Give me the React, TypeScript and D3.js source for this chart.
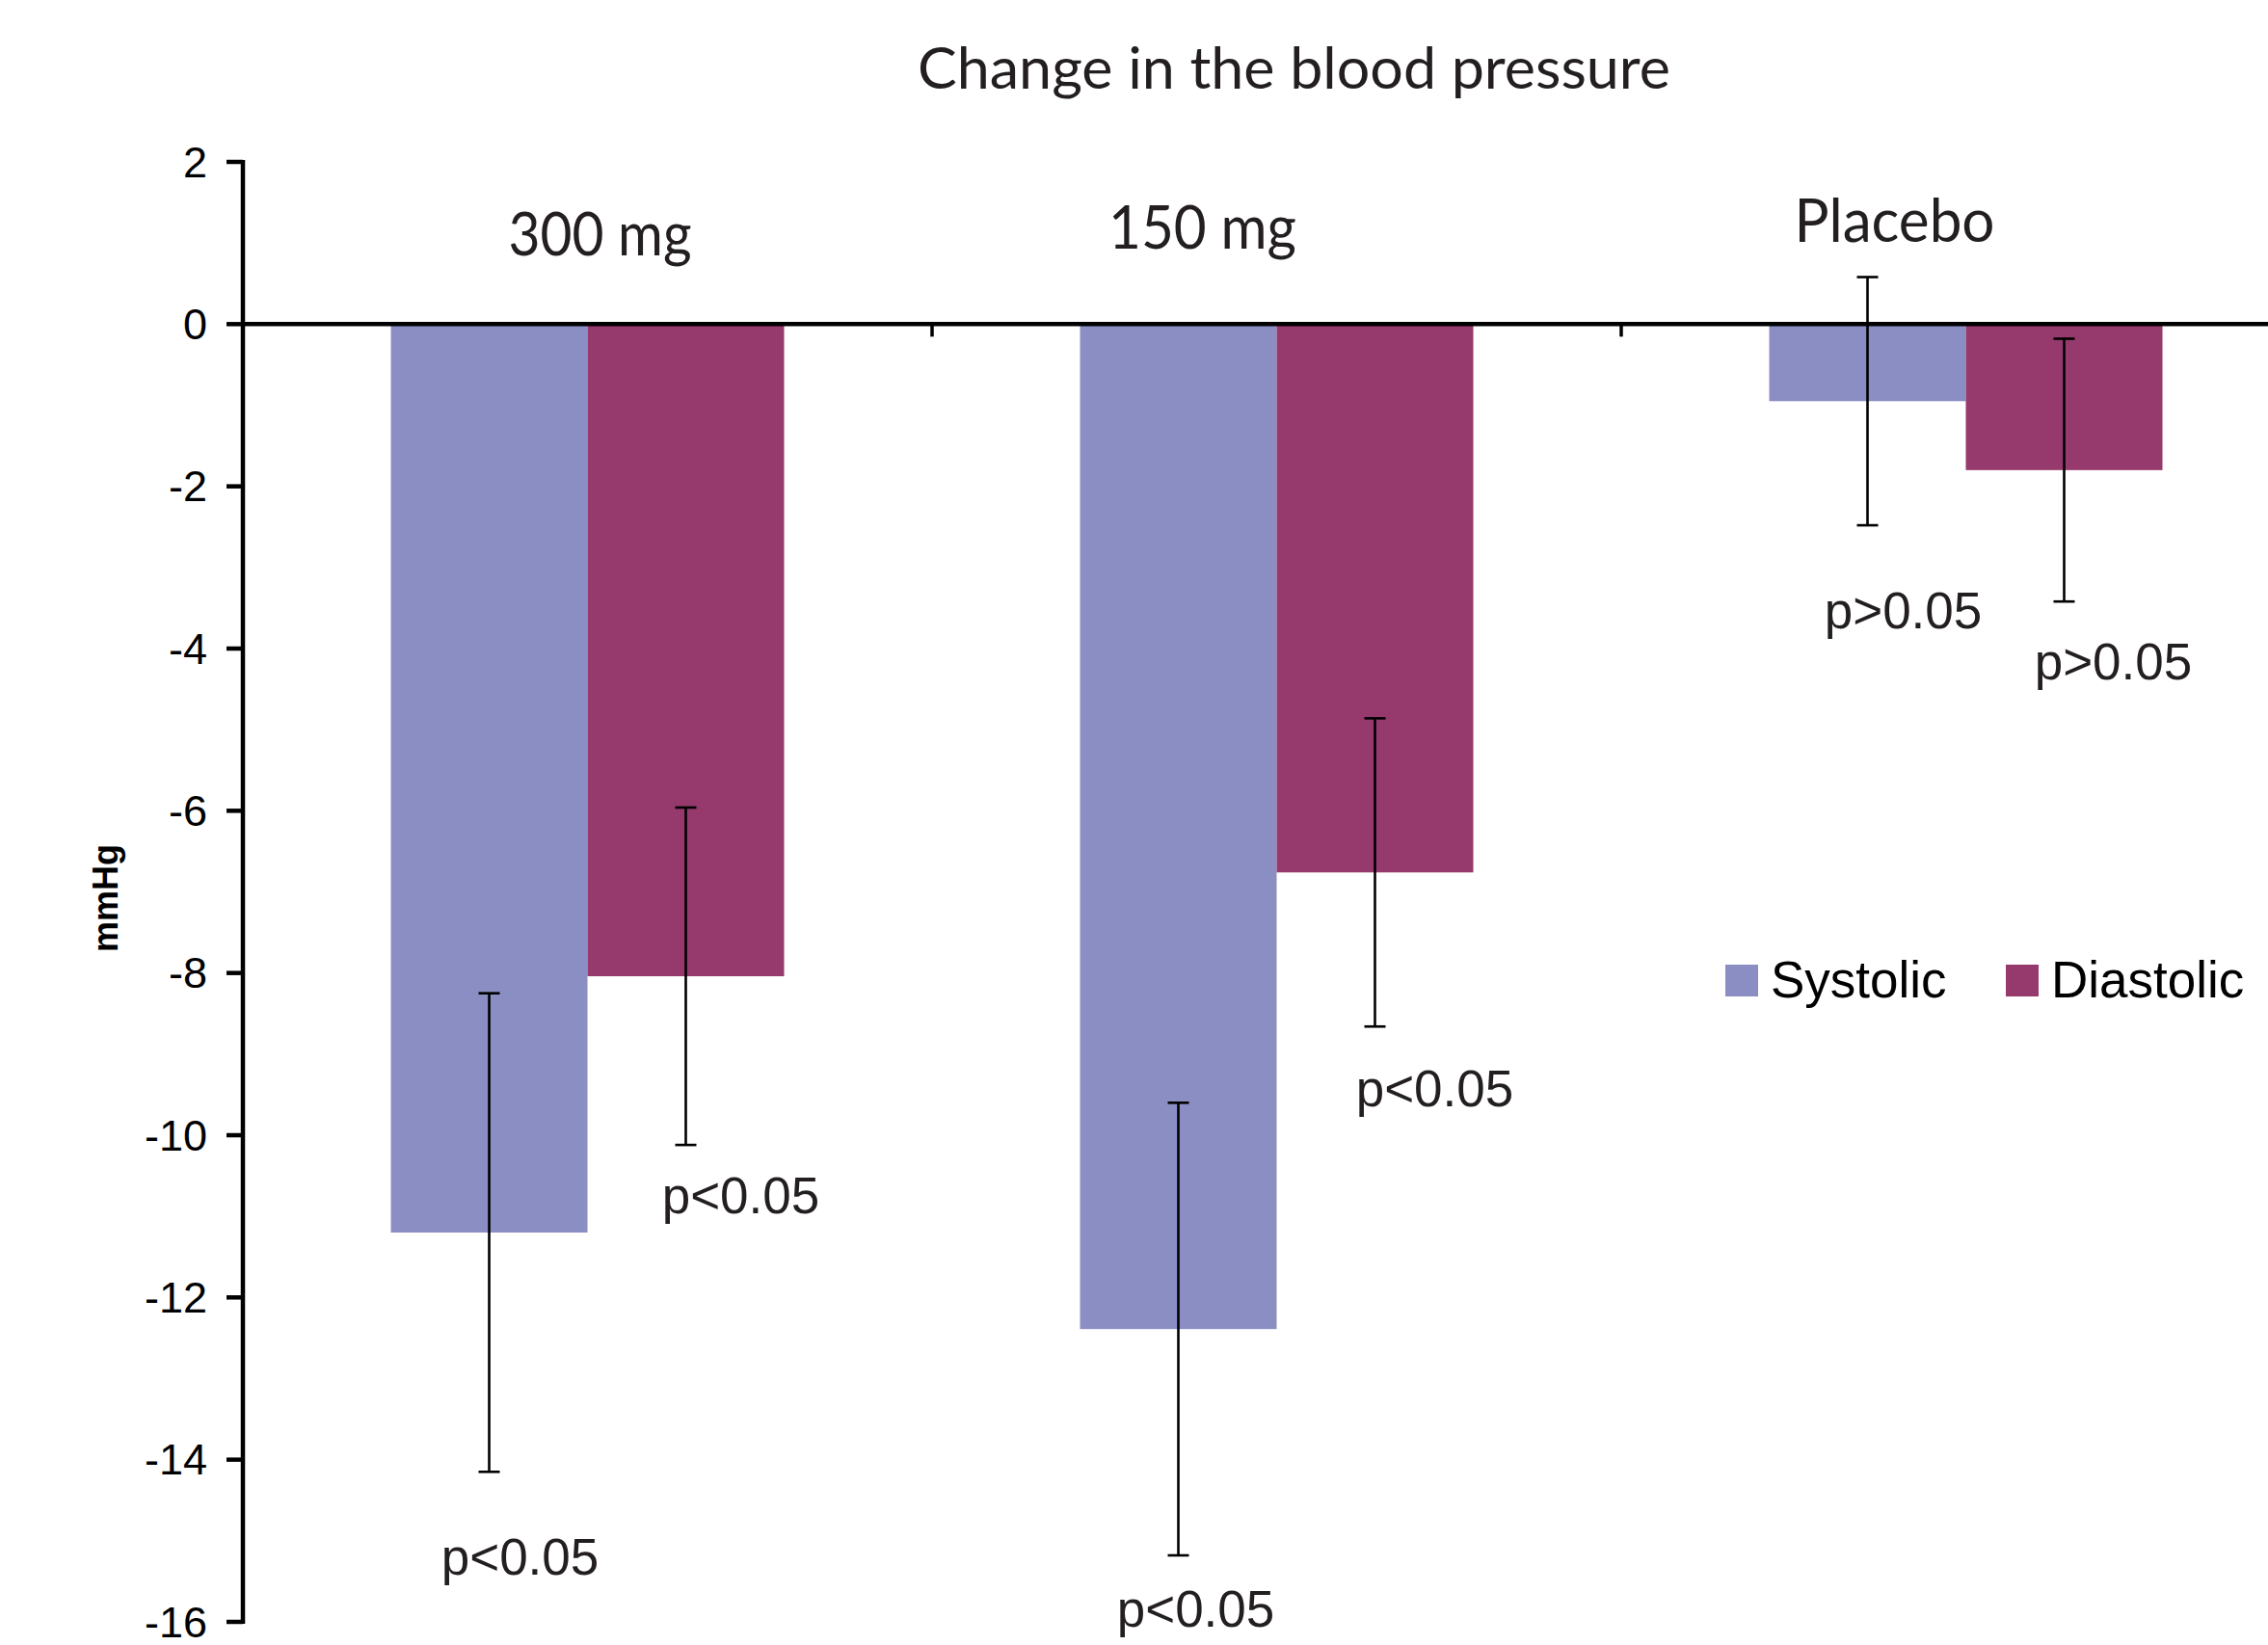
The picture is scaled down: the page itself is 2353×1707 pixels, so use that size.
import React from "react";
import * as d3 from "d3";

// ---------- data ----------
const categories = ["300 mg", "150 mg", "Placebo"];
const seriesNames = ["Systolic", "Diastolic"];
const systolic = [-11.2, -12.39, -0.95];
const diastolic = [-8.04, -6.76, -1.8];
const systolicErr = [2.95, 2.79, 1.53];
const diastolicErr = [2.08, 1.9, 1.62];
const systolicP = ["p<0.05", "p<0.05", "p>0.05"];
const diastolicP = ["p<0.05", "p<0.05", "p>0.05"];
const yTicks = [2, 0, -2, -4, -6, -8, -10, -12, -14, -16];
const titleText = "Change in the blood pressure";
const yLabel = "mmHg";

// ---------- layout ----------
const W = 2353;
const H = 1707;
const axisX = 252;
const plotRight = 2397;
const colors = ["#8A8EC3", "#96396C"];
const catLabelDx = [13, -77, -74];
const catLabelY = [265, 258, 251];
const pDx = [
  [32, 18, 37],
  [57, 62, 51],
];
const pDy = [
  [107, 74, 107],
  [71, 83, 81],
];
const catLabelLen = [190, 195, 208];
const arial = "'Liberation Sans', Arial, sans-serif";
const myriad = "Lato, 'Open Sans', sans-serif";

export default function App() {
  const y = d3.scaleLinear().domain([-16, 2]).range([1683, 168]);
  const x0 = d3.scaleBand<string>().domain(categories).range([axisX, plotRight]).paddingInner(0).paddingOuter(0);
  const x1 = d3
    .scaleBand<string>()
    .domain(seriesNames)
    .range([0, x0.bandwidth()])
    .paddingInner(0)
    .paddingOuter(0.7525);

  const series = [
    { name: seriesNames[0], values: systolic, errs: systolicErr, ps: systolicP, color: colors[0] },
    { name: seriesNames[1], values: diastolic, errs: diastolicErr, ps: diastolicP, color: colors[1] },
  ];

  const y0 = y(0);
  const capHalf = 11;

  return (
    <svg
      width={W}
      height={H}
      viewBox={`0 0 ${W} ${H}`}
      style={{ position: "absolute", left: 0, top: 0, background: "#fff" }}
    >
      <rect x={0} y={0} width={W} height={H} fill="#fff" />
      {/* title */}
      <text x={952} y={92} fontFamily={myriad} fontSize={60} fill="#231f20" textLength={781} lengthAdjust="spacingAndGlyphs">
        {titleText}
      </text>

      {/* bars */}
      {series.map((s, si) =>
        categories.map((c, ci) => {
          const bx = (x0(c) as number) + (x1(s.name) as number);
          const v = s.values[ci];
          return (
            <rect
              key={`b-${si}-${ci}`}
              x={bx}
              y={Math.min(y(v), y0)}
              width={x1.bandwidth()}
              height={Math.abs(y(v) - y0)}
              fill={s.color}
            />
          );
        })
      )}

      {/* zero line */}
      <line x1={axisX} x2={W} y1={y0} y2={y0} stroke="#000" strokeWidth={4.5} />
      {categories.slice(1).map((c) => (
        <line key={`xt-${c}`} x1={x0(c) as number} x2={x0(c) as number} y1={y0} y2={y0 + 13} stroke="#000" strokeWidth={3.5} />
      ))}

      {/* error bars */}
      {series.map((s, si) =>
        categories.map((c, ci) => {
          const cx = (x0(c) as number) + (x1(s.name) as number) + x1.bandwidth() / 2;
          const hi = y(s.values[ci] + s.errs[ci]);
          const lo = y(s.values[ci] - s.errs[ci]);
          return (
            <g key={`e-${si}-${ci}`} stroke="#000" strokeWidth={2.6}>
              <line x1={cx} x2={cx} y1={hi} y2={lo} />
              <line x1={cx - capHalf} x2={cx + capHalf} y1={hi} y2={hi} />
              <line x1={cx - capHalf} x2={cx + capHalf} y1={lo} y2={lo} />
            </g>
          );
        })
      )}

      {/* p labels */}
      {series.map((s, si) =>
        categories.map((c, ci) => {
          const cx = (x0(c) as number) + (x1(s.name) as number) + x1.bandwidth() / 2;
          const lo = y(s.values[ci] - s.errs[ci]);
          return (
            <text
              key={`p-${si}-${ci}`}
              x={cx + pDx[si][ci]}
              y={lo + pDy[si][ci]}
              textAnchor="middle"
              fontFamily={arial}
              fontSize={53}
              fill="#231f20"
            >
              {s.ps[ci]}
            </text>
          );
        })
      )}

      {/* category labels */}
      {categories.map((c, ci) => (
        <text
          key={`cl-${c}`}
          x={(x0(c) as number) + x0.bandwidth() / 2 + catLabelDx[ci]}
          y={catLabelY[ci]}
          textAnchor="middle"
          fontFamily={myriad}
          fontSize={62}
          fill="#231f20"
          textLength={catLabelLen[ci]}
          lengthAdjust="spacingAndGlyphs"
        >
          {c}
        </text>
      ))}

      {/* y axis */}
      <line x1={axisX} x2={axisX} y1={y(2) - 2} y2={y(-16) + 2} stroke="#000" strokeWidth={4.5} />
      {yTicks.map((t) => (
        <g key={`yt-${t}`}>
          <line x1={axisX - 17} x2={axisX} y1={y(t)} y2={y(t)} stroke="#000" strokeWidth={4.5} />
          <text x={215} y={y(t)} dy="0.35em" textAnchor="end" fontFamily={arial} fontSize={45} fill="#000">
            {t}
          </text>
        </g>
      ))}
      <text
        transform={`translate(122, 932) rotate(-90)`}
        textAnchor="middle"
        fontFamily={arial}
        fontWeight="bold"
        fontSize={36}
        fill="#000"
      >
        {yLabel}
      </text>

      {/* legend */}
      {series.map((s, si) => {
        const lx = [1790, 2081][si];
        return (
          <g key={`lg-${si}`}>
            <rect x={lx} y={1001} width={34} height={33} fill={s.color} />
            <text x={lx + 47} y={1035} fontFamily={arial} fontSize={53} fill="#000">
              {s.name}
            </text>
          </g>
        );
      })}
    </svg>
  );
}
